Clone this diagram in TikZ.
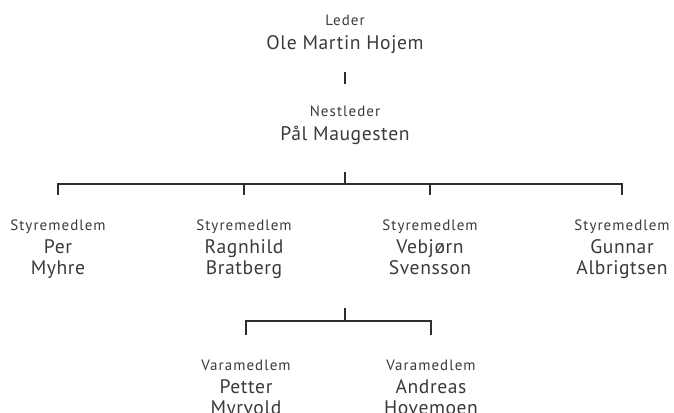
\documentclass[tikz,border=0pt]{standalone}
\usepackage{fontspec}
\setmainfont{PT Sans}
\newfontfamily\labfont[LetterSpace=7]{PT Sans}
\newfontfamily\namefont[LetterSpace=3]{PT Sans}
\definecolor{txt}{HTML}{3A3A3A}
\definecolor{ln}{HTML}{2E2E2E}
\tikzset{
  rolebox/.style={anchor=base, text=txt, inner sep=0pt, font=\labfont\fontsize{15}{16}\selectfont},
  namebox/.style={anchor=base, text=txt, inner sep=0pt, font=\namefont\fontsize{19.6}{21}\selectfont},
  conn/.style={draw=ln, line width=1.3pt},
}
\begin{document}
\begin{tikzpicture}[x=1pt,y=-1pt]
\useasboundingbox (0,0) rectangle (674,412);
% Leder
\node[rolebox] (leder) at (345,25.7) {Leder};
\node[namebox] (ledern) at (345,49.5) {Ole Martin Hojem};
% Nestleder
\node[rolebox] (nest) at (345,116) {Nestleder};
\node[namebox] (nestn) at (345,140) {Pål Maugesten};
% Styremedlemmer
\node[rolebox] (s1) at (58,230) {Styremedlem};
\node[namebox] (s1a) at (58,253) {Per};
\node[namebox] (s1b) at (58,274) {Myhre};
\node[rolebox] (s2) at (244,230) {Styremedlem};
\node[namebox] (s2a) at (244,253) {Ragnhild};
\node[namebox] (s2b) at (244,274) {Bratberg};
\node[rolebox] (s3) at (430,230) {Styremedlem};
\node[namebox] (s3a) at (430,253) {Vebjørn};
\node[namebox] (s3b) at (430,274) {Svensson};
\node[rolebox] (s4) at (622,230) {Styremedlem};
\node[namebox] (s4a) at (622,253) {Gunnar};
\node[namebox] (s4b) at (622,274) {Albrigtsen};
% Varamedlemmer
\node[rolebox] (v1) at (246,370) {Varamedlem};
\node[namebox] (v1a) at (246,393) {Petter};
\node[namebox] (v1b) at (246,414) {Myrvold};
\node[rolebox] (v2) at (431,370) {Varamedlem};
\node[namebox] (v2a) at (431,393) {Andreas};
\node[namebox] (v2b) at (431,414) {Hovemoen};
% connectors
\coordinate (t1) at (345,72);
\coordinate (t2) at (345,84);
\draw[conn] (t1) -- (t2);
\coordinate (b0) at (345,172);
\coordinate (bar) at (345,184);
\coordinate (d1) at (58,195);
\coordinate (d2) at (244,195);
\coordinate (d3) at (430,195);
\coordinate (d4) at (622,195);
\draw[conn] (b0) -- (bar);
\draw[conn] (d1) |- (bar) -| (d4);
\draw[conn] (d2) -- (d2 |- bar);
\draw[conn] (d3) -- (d3 |- bar);
\coordinate (c0) at (345,308);
\coordinate (cbar) at (345,321);
\coordinate (e1) at (246,335);
\coordinate (e2) at (431,335);
\draw[conn] (c0) -- (cbar);
\draw[conn] (e1) |- (cbar) -| (e2);
\end{tikzpicture}
\end{document}
